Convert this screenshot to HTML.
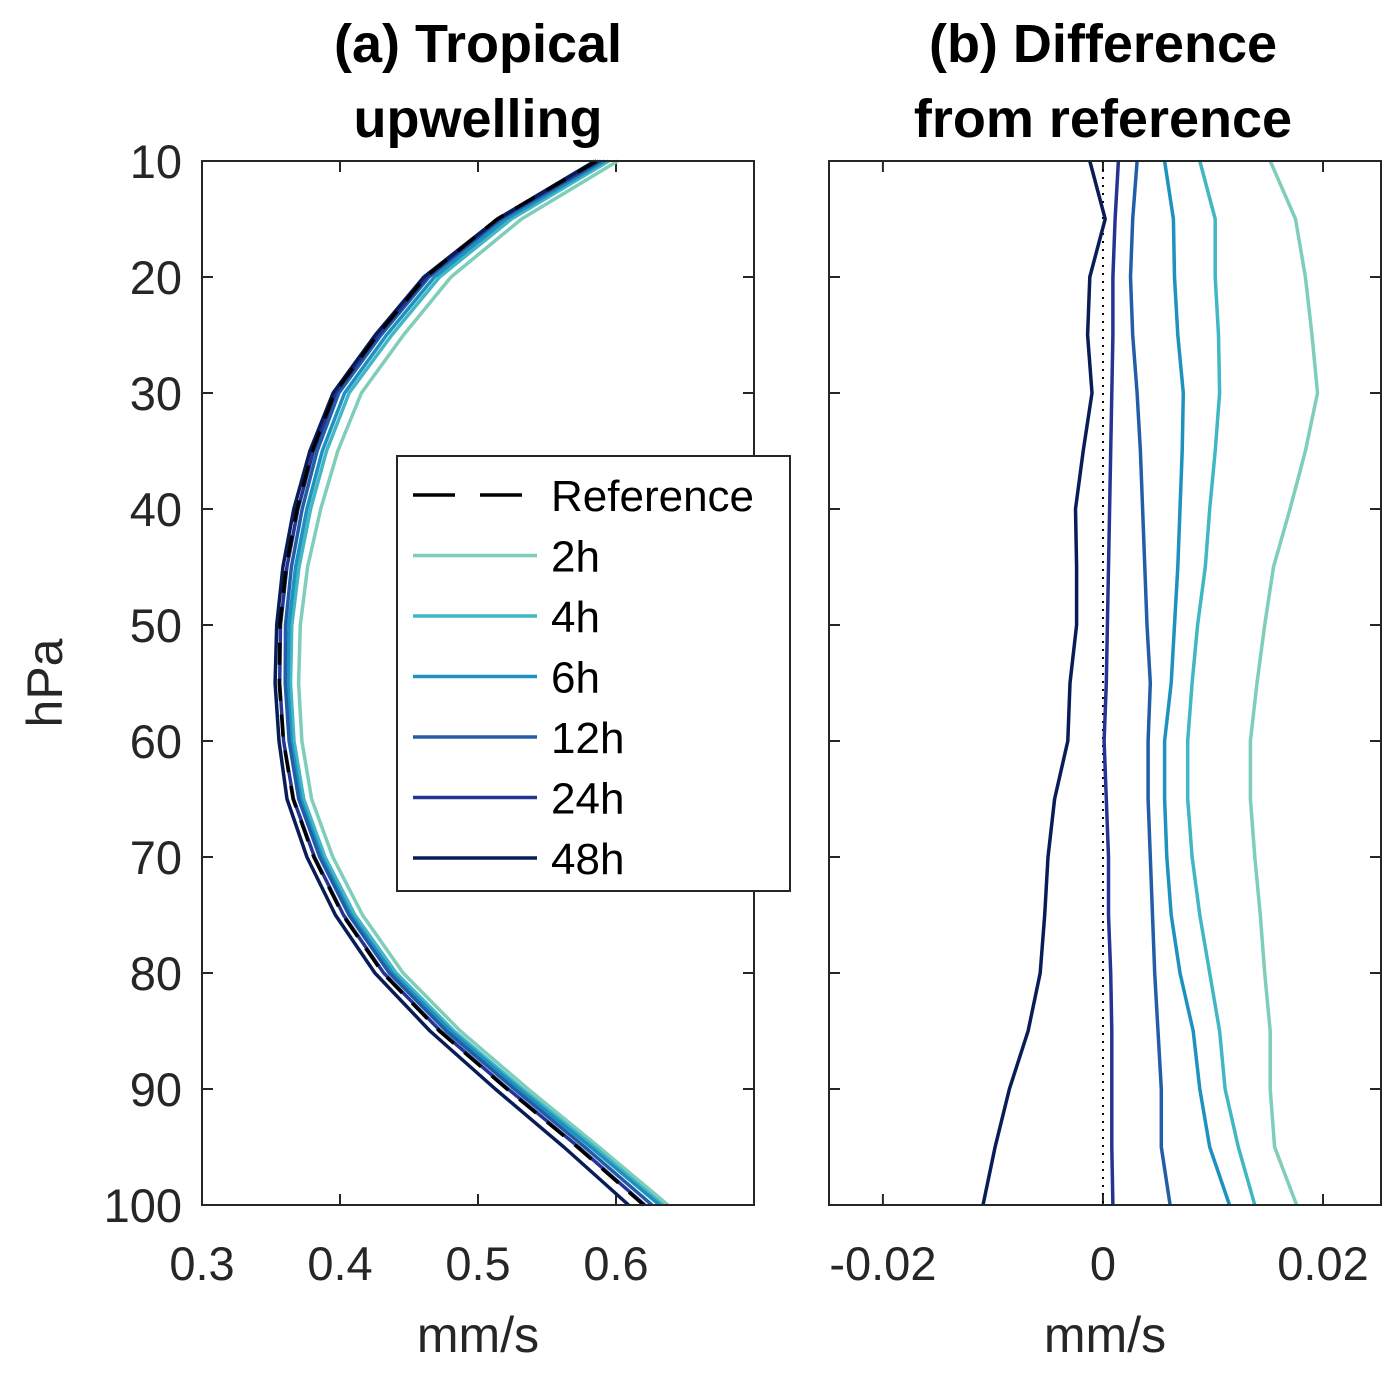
<!DOCTYPE html>
<html><head><meta charset="utf-8"><style>
body{margin:0;background:#fff}
svg text{font-family:"Liberation Sans",sans-serif;fill:#262626}
</style></head><body>
<svg id="fig" width="1400" height="1371" viewBox="0 0 1400 1371" xmlns="http://www.w3.org/2000/svg"></svg>
<script>
const pressures=[10,15,20,25,30,35,40,45,50,55,60,65,70,75,80,85,90,95,100];
const refValues=[0.586,0.514,0.462,0.427,0.396,0.380,0.369,0.361,0.3565,0.356,0.359,0.366,0.381,0.402,0.431,0.472,0.521,0.572,0.620];
const seriesNames=["2h","4h","6h","12h","24h","48h"];
const diff2h=[15.2,17.5,18.4,19.0,19.5,18.4,17.0,15.5,14.7,14.0,13.4,13.4,13.8,14.3,14.7,15.2,15.2,15.6,17.6];
const diff4h=[8.8,10.2,10.2,10.5,10.6,10.2,9.7,9.3,8.6,8.1,7.7,7.7,8.1,8.8,9.7,10.6,11.1,12.3,13.8];
const diff6h=[5.6,6.4,6.5,6.8,7.3,7.2,7.0,6.8,6.5,6.2,5.6,5.6,5.8,6.2,7.0,8.2,8.8,9.7,11.5];
const diff12h=[3.1,2.7,2.5,2.7,3.1,3.4,3.6,3.8,4.0,4.3,4.1,4.1,4.3,4.5,4.7,5.0,5.3,5.3,6.1];
const diff24h=[1.4,1.1,0.9,0.9,0.8,0.7,0.6,0.5,0.4,0.3,0.1,0.3,0.5,0.5,0.7,0.8,0.8,0.8,0.9];
const diff48h=[-1.2,0.2,-1.2,-1.4,-1.0,-1.8,-2.5,-2.4,-2.4,-3.0,-3.2,-4.4,-5.0,-5.3,-5.7,-6.8,-8.5,-9.8,-10.9];
const diffScale=1e-3;
const yTicks=[10,20,30,40,50,60,70,80,90,100];
const xTicksA=[0.3,0.4,0.5,0.6];
const xTickLabelsA=["0.3","0.4","0.5","0.6"];
const xTicksB=[-0.02,0,0.02];
const xTickLabelsB=["-0.02","0","0.02"];

const colors=["#7fcdbb","#41b6c4","#1d91c0","#225ea8","#253494","#081d58"];
const diffs=[diff2h,diff4h,diff6h,diff12h,diff24h,diff48h];
const NS="http://www.w3.org/2000/svg";
const svg=document.getElementById('fig');
function mk(tag,attrs,parent){const e=document.createElementNS(NS,tag);for(const k in attrs)e.setAttribute(k,attrs[k]);(parent||svg).appendChild(e);return e;}
const yTop=161,yBot=1205;
const yScale=p=>yTop+(p-10)/90*(yBot-yTop);
const A={x0:202,x1:754,min:0.3,max:0.7};
const B={x0:829,x1:1381,min:-0.0249,max:0.02527};
const xs=(ax,v)=>ax.x0+(v-ax.min)/(ax.max-ax.min)*(ax.x1-ax.x0);

function axes(ax,ticks,labels,name){
  const g=mk('g',{});
  
  
  ticks.forEach((t,i)=>{
    const x=xs(ax,t);
    mk('line',{x1:x,x2:x,y1:yBot,y2:yBot-11,stroke:'#262626','stroke-width':2},g);
    mk('line',{x1:x,x2:x,y1:yTop,y2:yTop+11,stroke:'#262626','stroke-width':2},g);
    const tx=mk('text',{x:x,y:1280,'font-size':47,'text-anchor':'middle'},g);
    tx.textContent=labels[i];
    
    
  });
  yTicks.forEach(p=>{
    const y=yScale(p);
    mk('line',{x1:ax.x0,x2:ax.x0+11,y1:y,y2:y,stroke:'#262626','stroke-width':2},g);
    mk('line',{x1:ax.x1,x2:ax.x1-11,y1:y,y2:y,stroke:'#262626','stroke-width':2},g);
  });
  const xl=mk('text',{x:(ax.x0+ax.x1)/2,y:1352,'font-size':50,'text-anchor':'middle'},g);
  xl.textContent='mm/s';
  
  
  return g;
}
function path(ax,vals,color,dash,name){
  const d=vals.map((v,i)=>(i?'L':'M')+xs(ax,v).toFixed(1)+','+yScale(pressures[i]).toFixed(1)).join('');
  const p=mk('path',{d:d,fill:'none',stroke:color,'stroke-width':3.5,'stroke-linejoin':'round','stroke-dasharray':dash||'none'});
  
  
}
axes(A,xTicksA,xTickLabelsA,'panel-a');
yTicks.forEach(p=>{
  const t=mk('text',{x:182,y:yScale(p)+17,'font-size':47,'text-anchor':'end'});
  t.textContent=String(p);
  
  
});
diffs.forEach((d,k)=>path(A,refValues.map((r,i)=>r+d[i]*diffScale),colors[k],null,'line-a-'+seriesNames[k]));
path(A,refValues,'#000','22,14','line-a-reference');
axes(B,xTicksB,xTickLabelsB,'panel-b');
const z=xs(B,0);
const zl=mk('line',{x1:z,x2:z,y1:yTop,y2:yBot,stroke:'#000','stroke-width':2,'stroke-dasharray':'2,6'});


diffs.forEach((d,k)=>path(B,d.map(v=>v*diffScale),colors[k],null,'line-b-'+seriesNames[k]));
[A,B].forEach((ax,i)=>{
  const r=mk('rect',{x:ax.x0,y:yTop,width:ax.x1-ax.x0,height:yBot-yTop,fill:'none',stroke:'#262626','stroke-width':2});
  
  
});
[["(a) Tropical","upwelling",478],["(b) Difference","from reference",1103]].forEach((t,i)=>{
  const tx=mk('text',{x:t[2],y:62,'font-size':54,'font-weight':'bold','text-anchor':'middle'});
  
  
  tx.style.fill='#000';
  const s1=mk('tspan',{x:t[2],dy:0},tx);s1.textContent=t[0];
  const s2=mk('tspan',{x:t[2],dy:75},tx);s2.textContent=t[1];
});
const yl=mk('text',{x:62,y:683,'font-size':50,'text-anchor':'middle',transform:'rotate(-90 62 683)'});
yl.textContent='hPa';


const lg=mk('g',{});


mk('rect',{x:397,y:456,width:393,height:435,fill:'#fff',stroke:'#262626','stroke-width':2},lg);
const entries=["Reference"].concat(seriesNames);
entries.forEach((n,i)=>{
  const y=495+i*60.5;
  const e=mk('g',{},lg);
  
  
  mk('line',{x1:413,x2:537,y1:y,y2:y,stroke:i?colors[i-1]:'#000','stroke-width':3.5,'stroke-dasharray':i?'none':'42,25'},e);
  const t=mk('text',{x:551,y:y+16,'font-size':44},e);
  t.style.fill='#000';
  t.textContent=n;
});
</script>
</body></html>
